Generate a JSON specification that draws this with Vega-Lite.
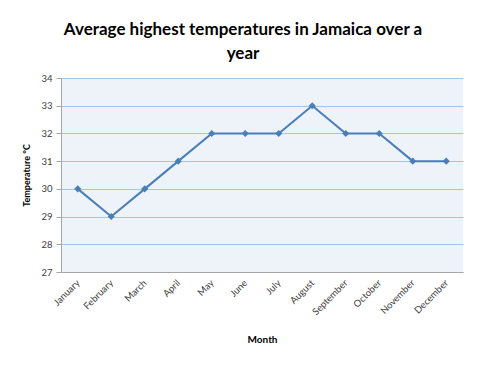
{
  "$schema": "https://vega.github.io/schema/vega-lite/v6.json",
  "width": 402,
  "height": 194,
  "autosize": {"type": "none"},
  "padding": {"left": 61, "top": 78, "right": 28, "bottom": 100},
  "background": "white",
  "title": {
    "text": ["Average highest temperatures in Jamaica over a", "year"],
    "font": "Lato",
    "fontSize": 17,
    "fontWeight": "bold",
    "color": "#000000",
    "anchor": "middle",
    "lineHeight": 24,
    "offset": 10,
    "dx": -19
  },
  "data": {
    "values": [
      {"Month": "January", "Temp": 30},
      {"Month": "February", "Temp": 29},
      {"Month": "March", "Temp": 30},
      {"Month": "April", "Temp": 31},
      {"Month": "May", "Temp": 32},
      {"Month": "June", "Temp": 32},
      {"Month": "July", "Temp": 32},
      {"Month": "August", "Temp": 33},
      {"Month": "September", "Temp": 32},
      {"Month": "October", "Temp": 32},
      {"Month": "November", "Temp": 31},
      {"Month": "December", "Temp": 31}
    ]
  },
  "encoding": {
    "x": {
      "field": "Month",
      "type": "ordinal",
      "sort": null,
      "scale": {"type": "point", "padding": 0.5},
      "axis": {
        "title": "Month",
        "labelAngle": -45,
        "labelAlign": "right",
        "labelBaseline": "middle",
        "labelFont": "Lato",
        "labelFontSize": 9.5,
        "labelColor": "#404040",
        "labelPadding": 9,
        "ticks": false,
        "grid": false,
        "domainColor": "#a6a6a6",
        "titleFont": "Lato",
        "titleFontSize": 10,
        "titleFontWeight": "bold",
        "titleColor": "#000000",
        "titlePadding": 18
      }
    },
    "y": {
      "field": "Temp",
      "type": "quantitative",
      "scale": {"domain": [27, 34], "nice": false, "zero": false},
      "axis": {
        "title": "Temperature °C",
        "values": [27, 28, 29, 30, 31, 32, 33, 34],
        "format": "d",
        "labelFont": "Lato",
        "labelFontSize": 9.5,
        "labelColor": "#404040",
        "labelPadding": 4,
        "tickSize": 5,
        "tickColor": "#a6a6a6",
        "domainColor": "#a6a6a6",
        "gridColor": "#a7c3e3",
        "gridWidth": 1,
        "titleFont": "Lato",
        "titleFontSize": 9,
        "titleFontWeight": "bold",
        "titleColor": "#000000",
        "titlePadding": 9
      }
    }
  },
  "layer": [
    {
      "mark": {"type": "line", "color": "#4a7ebb", "strokeWidth": 2}
    },
    {
      "mark": {"type": "point", "shape": "diamond", "filled": true, "color": "#4a7ebb", "size": 50, "opacity": 1}
    }
  ],
  "config": {
    "view": {"fill": "#eef3f9", "stroke": null}
  }
}
